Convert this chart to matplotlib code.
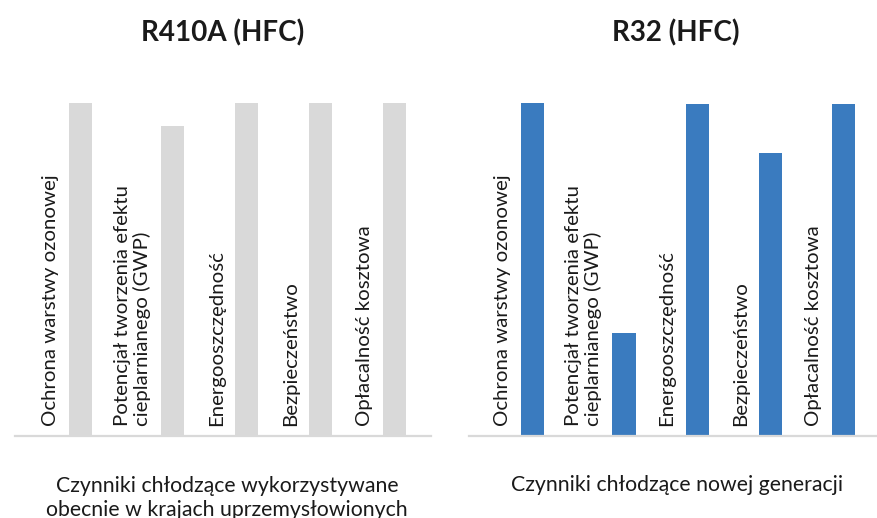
import matplotlib
matplotlib.use('Agg')
import matplotlib.pyplot as plt

categories = ["Ochrona warstwy ozonowej",
              "Potencjał tworzenia efektu\ncieplarnianego (GWP)",
              "Energooszczędność",
              "Bezpieczeństwo",
              "Opłacalność kosztowa"]
r410a_values = [100, 93, 100, 100, 100]
r32_values = [100, 31, 99.7, 85, 99.7]
titles = ["R410A (HFC)", "R32 (HFC)"]
captions = ["Czynniki chłodzące wykorzystywane\nobecnie w krajach uprzemysłowionych",
            "Czynniki chłodzące nowej generacji"]
bar_colors = ["#D9D9D9", "#3A7BBF"]

FONT = ['Lato', 'DejaVu Sans']
plt.rcParams['font.family'] = FONT

W, H = 877, 518
fig = plt.figure(figsize=(W / 100, H / 100), dpi=100)


def px_axes(x0, x1, y_top, y_bottom):
    return fig.add_axes([x0 / W, 1 - y_bottom / H, (x1 - x0) / W, (y_bottom - y_top) / H])


# slot positions: a two-line label takes a wider slot
pos = []
acc = 0.0
for i, lab in enumerate(categories):
    if i > 0:
        acc += 1 + 0.25 * lab.count('\n')
    pos.append(acc)

panels = [
    dict(values=r410a_values, color=bar_colors[0], rect=(15, 431, 103, 436),
         xlim=(-0.889, 4.745), bw=0.311, title=titles[0], tx=223,
         caption=captions[0], cx=227, cy=498),
    dict(values=r32_values, color=bar_colors[1], rect=(469, 877, 103, 436),
         xlim=(-0.870, 4.710), bw=0.315, title=titles[1], tx=676,
         caption=captions[1], cx=677, cy=485),
]

for p in panels:
    ax = px_axes(*p['rect'])
    ax.bar(pos, p['values'], width=p['bw'], color=p['color'], zorder=2)
    ax.set_xlim(*p['xlim'])
    ax.set_ylim(0, 100)
    for s in ['top', 'left', 'right']:
        ax.spines[s].set_visible(False)
    ax.spines['bottom'].set_color('#D9D9D9')
    ax.spines['bottom'].set_linewidth(1.6)
    ax.set_xticks([])
    ax.set_yticks([])
    for x, lab in zip(pos, categories):
        ax.annotate(lab, xy=(x - p['bw'] / 2, 0), xytext=(-10, 10),
                    textcoords='offset pixels', rotation=90,
                    ha='right', va='bottom', multialignment='left',
                    fontsize=14.7, color='#1a1a1a', linespacing=1.15)
    fig.text(p['tx'] / W, 1 - 33 / H, p['title'], ha='center', va='center',
             fontsize=20, fontweight='bold', color='#1a1a1a')
    fig.text(p['cx'] / W, 1 - p['cy'] / H, p['caption'], ha='center', va='center',
             fontsize=15.3, color='#1a1a1a', linespacing=1.2)

fig.savefig('out.png', dpi=100)
